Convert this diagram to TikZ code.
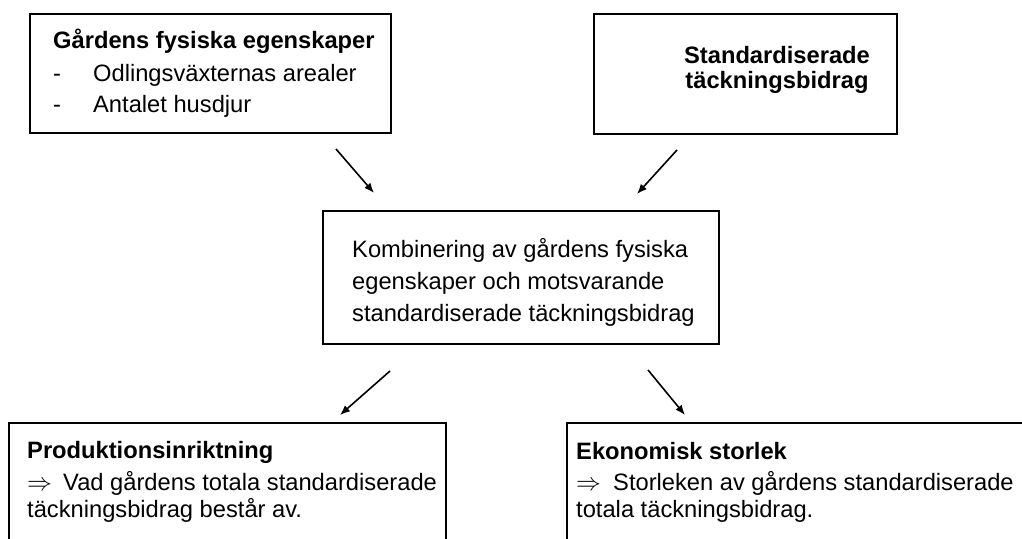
\documentclass[tikz,border=0pt]{standalone}
\usepackage{fontspec}
\setmainfont{Liberation Sans}
\usepackage{tikz}
\usetikzlibrary{arrows.meta}
\tikzstyle{arrow} = [line width=1.6pt,-{Latex[length=10pt,width=8pt]}]
\tikzstyle{box} = [draw, line width=1.6pt, inner sep=0pt, anchor=north west]
\tikzstyle{txt} = [inner sep=0pt, anchor=base west]

\begin{document}
\fontsize{23.7pt}{28pt}\selectfont
\begin{tikzpicture}[x=1pt,y=-1pt]
    \clip (0,0) rectangle (1022,538);

    % Boxes
    \node[box, minimum width=361pt, minimum height=119pt] (fysisk) at (29,13) {};
    \node[box, minimum width=303pt, minimum height=120pt] (standard) at (593,13) {};
    \node[box, minimum width=396pt, minimum height=133pt] (komb) at (322,210) {};
    \node[box, minimum width=437pt, minimum height=200pt] (prod) at (8,422) {};
    \node[box, minimum width=460pt, minimum height=200pt] (ekon) at (566,422) {};

    % Texts
    \node[txt, font=\bfseries] (fysiskT) at (53,48) {Gårdens fysiska egenskaper};
    \node[txt] (fysisk1) at (53,81) {\makebox[40pt][l]{-}Odlingsväxternas arealer};
    \node[txt] (fysisk2) at (53,112) {\makebox[40pt][l]{-}Antalet husdjur};

    \node[txt, anchor=base, font=\bfseries] (standardT1) at (777,63) {Standardiserade};
    \node[txt, anchor=base, font=\bfseries] (standardT2) at (777,88) {täckningsbidrag};

    \node[txt] (komb1) at (352,257) {Kombinering av gårdens fysiska};
    \node[txt] (komb2) at (352,289) {egenskaper och motsvarande};
    \node[txt] (komb3) at (352,321) {standardiserade täckningsbidrag};

    \node[txt, font=\bfseries] (prodT) at (27,458) {Produktionsinriktning};
    \node[txt] (prod1) at (27,490) {\makebox[36pt][l]{$\Rightarrow$}Vad gårdens totala standardiserade};
    \node[txt] (prod2) at (27,517) {täckningsbidrag består av.};

    \node[txt, font=\bfseries] (ekonT) at (576,459) {Ekonomisk storlek};
    \node[txt] (ekon1) at (576,490) {\makebox[37pt][l]{$\Rightarrow$}Storleken av gårdens standardiserade};
    \node[txt] (ekon2) at (576,517) {totala täckningsbidrag.};

    % Arrows
    \coordinate (a1) at (336,149);
    \coordinate (b1) at (374,193);
    \coordinate (a2) at (677,150);
    \coordinate (b2) at (637,194);
    \coordinate (a3) at (390,371);
    \coordinate (b3) at (340,415);
    \coordinate (a4) at (648,370);
    \coordinate (b4) at (685,415);
    \draw[arrow] (a1) -- (b1);
    \draw[arrow] (a2) -- (b2);
    \draw[arrow] (a3) -- (b3);
    \draw[arrow] (a4) -- (b4);
\end{tikzpicture}
\end{document}
